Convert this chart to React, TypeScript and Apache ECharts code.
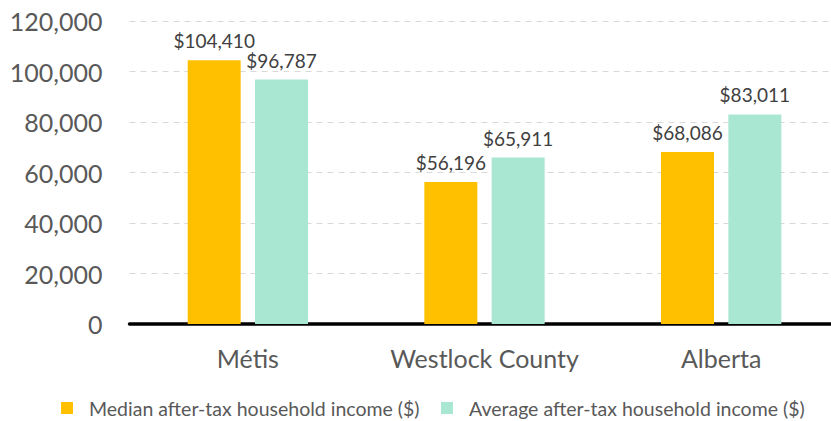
import React, { useEffect, useRef } from "react";
import * as echarts from "echarts";

const categories = ["Métis", "Westlock County", "Alberta"];
const medianIncome = [104410, 56196, 68086];
const averageIncome = [96787, 65911, 83011];
const seriesNames = [
  "Median after-tax household income ($)",
  "Average after-tax household income ($)",
];
const yMin = 0;
const yMax = 120000;
const yInterval = 20000;

const FONT = "Lato";
const TEXT = "#595959";

export default function App() {
  const ref = useRef<HTMLDivElement>(null);
  useEffect(() => {
    document.body.style.margin = "0";
    if (!ref.current) return;
    const chart = echarts.init(ref.current, undefined, { renderer: "svg" });
    const fmt = (v: number) => v.toLocaleString("en-US");
    const labelCfg = {
      show: true,
      position: "top",
      distance: 10,
      fontFamily: FONT,
      fontSize: 19,
      color: "#404040",
      formatter: (p: any) => "$" + fmt(p.value),
    };
    const legendText = { fontFamily: FONT, fontSize: 19.5, color: TEXT, lineHeight: 20, padding: [0, 0, 0, 11] };
    chart.setOption({
      animation: false,
      backgroundColor: "#ffffff",
      grid: { left: 129.5, width: 710, top: 21, height: 303, containLabel: false },
      legend: [
        {
          data: [seriesNames[0]],
          left: 61,
          top: 398,
          padding: 0,
          itemWidth: 12,
          itemHeight: 12,
          icon: "rect",
          textStyle: legendText,
        },
        {
          data: [seriesNames[1]],
          left: 441,
          top: 398,
          padding: 0,
          itemWidth: 12,
          itemHeight: 12,
          icon: "rect",
          textStyle: legendText,
        },
      ],
      xAxis: {
        type: "category",
        data: categories,
        axisLine: { show: true, lineStyle: { color: "#000000", width: 3.5 } },
        axisTick: { show: false },
        axisLabel: { interval: 0, fontFamily: FONT, fontSize: 25, color: TEXT, margin: 21 },
      },
      yAxis: {
        type: "value",
        min: yMin,
        max: yMax,
        interval: yInterval,
        axisLine: { show: false },
        axisTick: { show: false },
        axisLabel: { fontFamily: FONT, fontSize: 25, color: TEXT, margin: 27, formatter: (v: number) => fmt(v) },
        splitLine: { show: true, lineStyle: { color: "#D9D9D9", type: [6, 5], width: 1 } },
      },
      series: [
        {
          name: seriesNames[0],
          type: "bar",
          data: medianIncome,
          barWidth: 53,
          barGap: "27%",
          itemStyle: { color: "#FFC000" },
          label: labelCfg,
        },
        {
          name: seriesNames[1],
          type: "bar",
          data: averageIncome,
          barWidth: 53,
          barGap: "27%",
          itemStyle: { color: "#A9E7D3" },
          label: labelCfg,
        },
      ],
    });
    return () => chart.dispose();
  }, []);
  return (
    <div
      style={{ position: "absolute", left: 0, top: 0, width: 831, height: 421, overflow: "hidden" }}
    >
      <div ref={ref} style={{ width: 840, height: 421 }} />
    </div>
  );
}
